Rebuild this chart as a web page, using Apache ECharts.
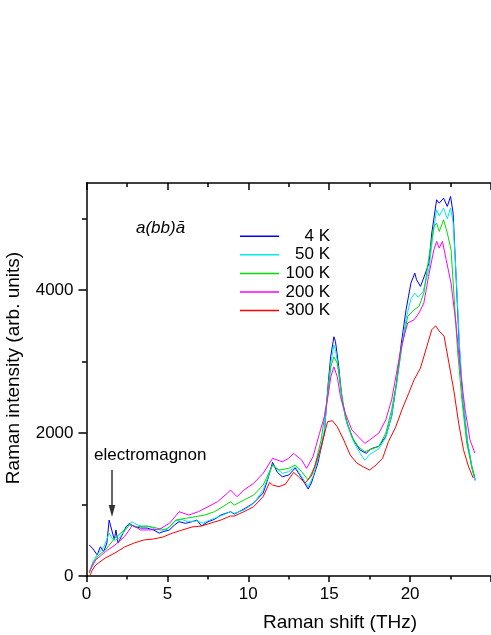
<!DOCTYPE html>
<html>
<head>
<meta charset="utf-8">
<script src="https://cdn.jsdelivr.net/npm/echarts@6/dist/echarts.min.js"></script>
<style>html,body{margin:0;padding:0;background:#fff}#c{width:491px;height:635px}</style>
</head>
<body>
<div id="c"></div>
<script>
// Raman shift (THz), intensity (arb. units) pairs
const seriesNames = ['4 K', '50 K', '100 K', '200 K', '300 K'];
const xTicks = [0, 5, 10, 15, 20];
const yTicks = [0, 2000, 4000];
const yMinorTicks = [1000, 3000, 5000];

const s4K = [[0.17,434],[0.4,380],[0.66,294],[0.86,410],[1.06,340],[1.26,462],[1.40,783],[1.56,644],[1.72,504],[1.82,644],[1.95,462],[2.15,550],[2.45,690],[2.65,737],[2.95,690],[3.34,671],[3.74,671],[4.14,644],[4.5,600],[4.73,620],[5.13,644],[5.43,713],[5.72,760],[6.12,737],[6.52,760],[6.82,783],[7.11,700],[7.51,760],[7.91,793],[8.30,853],[8.9,900],[9.14,867],[9.73,937],[10.33,1021],[10.92,1161],[11.2,1350],[11.5,1590],[11.8,1450],[12.1,1389],[12.5,1413],[12.9,1511],[13.3,1371],[13.7,1217],[13.9,1301],[14.3,1581],[14.7,2000],[14.92,2648],[15.09,3068],[15.29,3348],[15.39,3278],[15.59,2928],[15.8,2462],[16.1,2140],[16.5,1903],[16.9,1763],[17.3,1716],[17.5,1767],[17.7,1790],[18.07,1814],[18.5,1954],[18.86,2234],[19.16,2700],[19.46,3260],[19.75,3726],[20.05,4099],[20.29,4239],[20.4,4146],[20.64,4053],[20.8,4146],[21.17,4379],[21.34,4799],[21.64,5265],[21.8,5218],[22.07,5288],[22.3,5172],[22.5,5312],[22.66,5078],[22.86,4099],[23.05,3166],[23.26,2466],[23.55,1861],[23.85,1487],[24.02,1347]];

const s50K = [[0.17,50],[0.4,200],[0.66,300],[0.9,360],[1.1,420],[1.4,600],[1.6,520],[1.8,500],[2.0,530],[2.4,640],[2.8,760],[3.1,720],[3.4,700],[3.9,690],[4.3,650],[4.7,640],[5.1,680],[5.5,770],[5.9,790],[6.3,760],[6.8,770],[7.2,740],[7.7,790],[8.3,840],[8.9,900],[9.14,877],[9.73,923],[10.33,1017],[10.92,1203],[11.5,1553],[12.1,1437],[12.5,1460],[12.9,1529],[13.3,1390],[13.7,1250],[14.0,1390],[14.4,1716],[14.7,2043],[14.92,2600],[15.1,2980],[15.29,3232],[15.4,3150],[15.6,2850],[15.8,2420],[16.1,2130],[16.5,1880],[16.9,1720],[17.2,1620],[17.5,1700],[18.07,1780],[18.5,1940],[18.86,2250],[19.16,2680],[19.46,3180],[19.75,3600],[20.05,3880],[20.29,3959],[20.5,3900],[20.8,3980],[21.17,4300],[21.4,4750],[21.64,5125],[21.8,5040],[22.07,5148],[22.3,5000],[22.5,5150],[22.66,4950],[22.86,4150],[23.05,3250],[23.26,2500],[23.55,1880],[23.85,1490],[24.02,1330]];

const s100K = [[0.17,40],[0.4,180],[0.7,280],[1.16,364],[1.76,532],[2.35,644],[2.65,713],[3.14,690],[3.74,700],[4.33,671],[4.93,644],[5.52,783],[6.12,807],[6.71,830],[7.31,853],[7.91,900],[8.5,980],[8.9,1040],[9.14,993],[9.73,1063],[10.33,1133],[10.92,1273],[11.5,1553],[11.9,1483],[12.5,1507],[12.9,1553],[13.3,1460],[13.7,1343],[14.1,1529],[14.5,1903],[14.92,2556],[15.1,2928],[15.29,3068],[15.5,2976],[15.7,2648],[16.0,2229],[16.4,1949],[16.8,1809],[17.2,1739],[17.5,1767],[18.07,1814],[18.5,2000],[18.86,2327],[19.16,2700],[19.46,3166],[19.85,3633],[20.25,3726],[20.55,3773],[20.85,3959],[21.14,4426],[21.47,4892],[21.64,4938],[21.8,4822],[22.07,4985],[22.3,4799],[22.53,4566],[22.73,3866],[22.93,3166],[23.2,2466],[23.5,1861],[23.8,1535],[24.0,1395]];

const s200K = [[0.17,60],[0.57,224],[1.16,340],[1.76,434],[2.35,550],[2.85,713],[3.34,644],[3.94,644],[4.53,657],[5.13,737],[5.72,900],[6.32,853],[6.91,900],[7.51,970],[8.1,1040],[8.7,1157],[8.9,1203],[9.3,1110],[9.73,1203],[10.33,1297],[10.92,1437],[11.5,1647],[12.1,1599],[12.5,1647],[12.8,1716],[13.3,1623],[13.6,1507],[14.0,1669],[14.4,1996],[14.7,2229],[14.92,2508],[15.1,2788],[15.29,2928],[15.5,2788],[15.7,2508],[16.0,2276],[16.4,2043],[16.8,1949],[17.2,1856],[17.5,1903],[18.07,2000],[18.5,2187],[18.86,2466],[19.16,2840],[19.46,3213],[19.85,3540],[20.25,3586],[20.55,3680],[20.85,3820],[21.14,4193],[21.47,4566],[21.64,4682],[21.8,4589],[22.0,4682],[22.23,4426],[22.53,4099],[22.83,3540],[23.1,2887],[23.4,2327],[23.7,1907],[24.0,1721]];

const s300K = [[0.2,0],[0.35,80],[0.57,154],[1.16,252],[1.76,322],[2.35,406],[2.95,462],[3.54,504],[4.14,518],[4.73,546],[5.33,602],[5.92,644],[6.52,686],[7.11,700],[7.71,742],[8.3,783],[8.9,840],[9.14,839],[9.73,900],[10.33,970],[10.92,1110],[11.32,1310],[11.5,1273],[11.9,1250],[12.3,1287],[12.8,1450],[13.1,1390],[13.5,1300],[13.9,1400],[14.1,1529],[14.5,1809],[14.9,2159],[15.2,2173],[15.5,2089],[15.9,1903],[16.3,1693],[16.7,1581],[17.1,1529],[17.5,1483],[17.9,1553],[18.3,1647],[18.66,1880],[19.1,2080],[19.5,2330],[19.9,2550],[20.25,2747],[20.64,2910],[21.04,3217],[21.34,3446],[21.58,3502],[21.8,3428],[22.1,3357],[22.4,2980],[22.7,2602],[23.0,2140],[23.3,1767],[23.6,1539],[23.9,1371]];

const seriesData = [s4K, s50K, s100K, s200K, s300K];
const seriesColors = ['#0000ff', '#00e8e8', '#00dd00', '#ff00ff', '#ff0000'];

const FONT = 'Liberation Sans, Arial, sans-serif';
const chart = echarts.init(document.getElementById('c'), null, {renderer: 'canvas'});

const baseX = {
  type: 'value', min: 0, max: 25, interval: 5,
  axisLine: {show: true, onZero: false, lineStyle: {color: '#000', width: 1.5}},
  splitLine: {show: false}
};
const plain = function (v) { return String(v); };

chart.setOption({
  animation: false,
  backgroundColor: '#fff',
  grid: {left: 86.5, top: 183, width: 420, height: 393, containLabel: false},
  xAxis: [
    Object.assign({}, baseX, {
      position: 'bottom',
      axisTick: {show: true, length: 6, lineStyle: {color: '#000', width: 1.5}},
      minorTick: {show: true, splitNumber: 2, length: 3.5, lineStyle: {color: '#000', width: 1.5}},
      axisLabel: {show: true, margin: 10, fontSize: 17, fontFamily: FONT, color: '#000',
        customValues: xTicks, formatter: plain}
    }),
    Object.assign({}, baseX, {
      position: 'top',
      axisTick: {show: true, inside: true, length: 7, lineStyle: {color: '#000', width: 1.5}},
      minorTick: {show: true, splitNumber: 2, length: 4, lineStyle: {color: '#000', width: 1.5}},
      axisLabel: {show: false}
    })
  ],
  yAxis: [
    {
      type: 'value', min: 0, max: 5500, interval: 2000, position: 'left',
      axisLine: {show: true, onZero: false, lineStyle: {color: '#000', width: 1.5}},
      axisTick: {show: true, length: 8, customValues: yTicks, lineStyle: {color: '#000', width: 1.5}},
      axisLabel: {show: true, margin: 13, fontSize: 17, fontFamily: FONT, color: '#000', customValues: yTicks, formatter: plain},
      splitLine: {show: false}
    },
    {
      type: 'value', min: 0, max: 5500, interval: 1000, position: 'left',
      axisLine: {show: false},
      axisTick: {show: true, length: 4.5, customValues: yMinorTicks, lineStyle: {color: '#000', width: 1.5}},
      axisLabel: {show: false},
      splitLine: {show: false}
    }
  ],
  legend: {
    data: seriesNames.map(function (n) { return {name: n, icon: 'rect'}; }),
    orient: 'vertical',
    left: 240, top: 227.7,
    padding: 0,
    itemWidth: 39, itemHeight: 1.5, itemGap: 1.6,
    selectedMode: false,
    formatter: function (n) { return '{r|' + n + '}'; },
    textStyle: {
      fontSize: 17, fontFamily: FONT, color: '#000',
      rich: {r: {width: 46, align: 'right', fontSize: 17, lineHeight: 20, fontFamily: FONT, color: '#000'}}
    }
  },
  series: seriesNames.map(function (name, i) {
    return {
      name: name, type: 'line', xAxisIndex: 0, yAxisIndex: 0,
      data: seriesData[i], symbol: 'none', showSymbol: false,
      lineStyle: {color: seriesColors[i], width: 1},
      itemStyle: {color: seriesColors[i]},
      emphasis: {disabled: true}
    };
  }),
  graphic: [
    {type: 'text', x: 14, y: 368, rotation: Math.PI / 2,
     style: {text: 'Raman intensity (arb. units)', font: '19px ' + FONT, fill: '#000', textAlign: 'center', textVerticalAlign: 'middle'}},
    {type: 'text', x: 340, y: 623,
     style: {text: 'Raman shift (THz)', font: '19px ' + FONT, fill: '#000', textAlign: 'center', textVerticalAlign: 'middle'}},
    {type: 'text', x: 136, y: 228,
     style: {text: 'a(bb)\u0101', font: 'italic 17px ' + FONT, fill: '#000', textAlign: 'left', textVerticalAlign: 'middle'}},
    {type: 'text', x: 94, y: 455,
     style: {text: 'electromagnon', font: '17px ' + FONT, fill: '#000', textAlign: 'left', textVerticalAlign: 'middle'}},
    {type: 'line', shape: {x1: 112, y1: 470, x2: 112, y2: 507}, style: {stroke: '#333', lineWidth: 1.5}},
    {type: 'polygon', shape: {points: [[108.7, 505], [115.3, 505], [112, 517]]}, style: {fill: '#333'}}
  ]
});
</script>
</body>
</html>
